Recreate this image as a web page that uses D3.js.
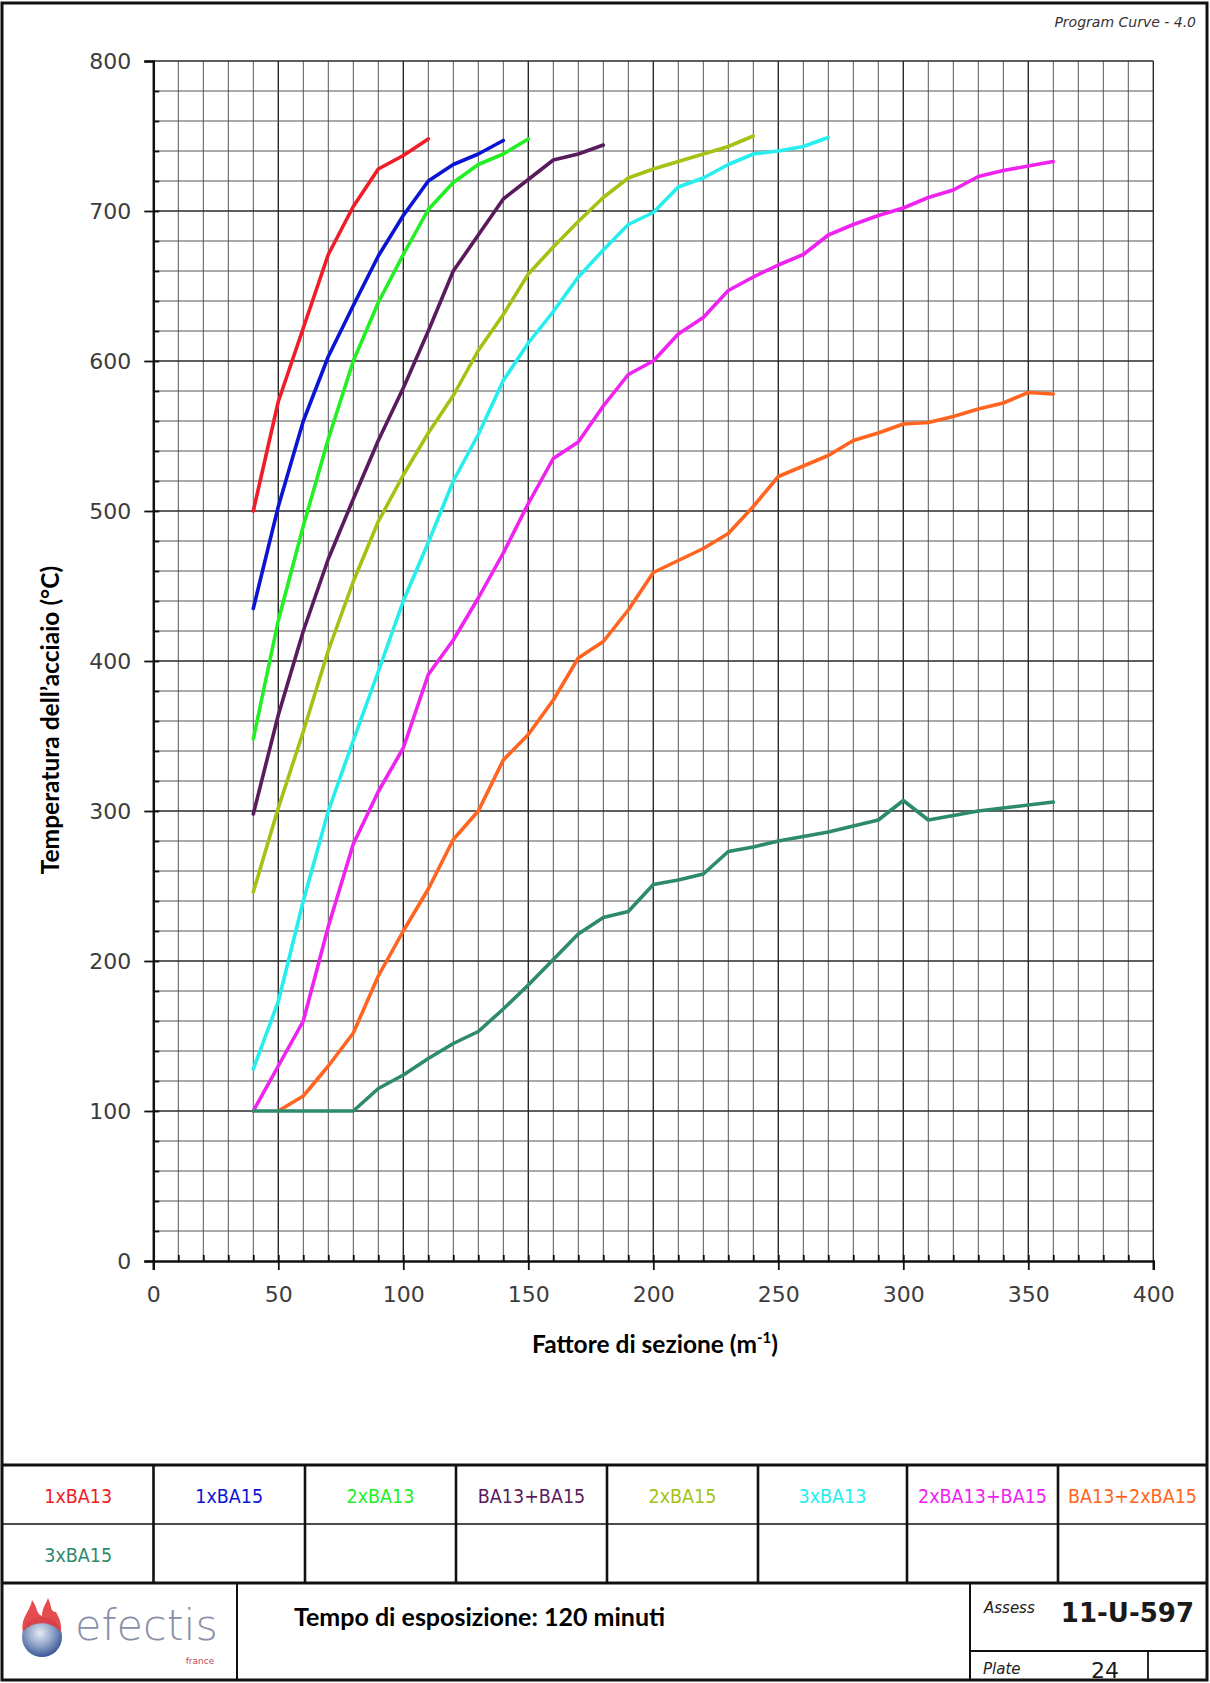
<!DOCTYPE html>
<html>
<head>
<meta charset="utf-8">
<script src="https://cdn.jsdelivr.net/npm/d3@7"></script>
<style>
  body { margin: 0; background: #fff; }
  svg text { font-family: "DejaVu Sans", sans-serif; }
</style>
</head>
<body>
<svg id="chart" width="1210" height="1683"></svg>
<script>
// section factor (m-1) at which temperatures were read
const fattore = [40,50,60,70,80,90,100,110,120,130,140,150,160,170,180,190,200,210,220,230,240,250,260,270,280,290,300,310,320,330,340,350,360];

// steel temperature (°C) per protection, starting at 40 m-1
const temp1xBA13 = [500,573,622,671,703,728,737,748];
const temp1xBA15 = [435,503,560,603,637,670,697,720,731,738,747];
const temp2xBA13 = [348,427,490,548,600,639,671,701,719,731,738,748];
const tempBA13BA15 = [298,364,420,468,508,547,582,620,660,684,708,721,734,738,744];
const temp2xBA15 = [246,302,353,407,453,493,524,552,577,607,631,658,676,693,709,722,728,733,738,743,750];
const temp3xBA13 = [128,173,240,300,347,393,440,479,520,551,587,612,633,656,674,691,699,716,722,731,738,740,743,749];
const temp2xBA13BA15 = [100,130,160,223,278,313,342,391,414,442,472,505,535,546,570,591,600,618,629,647,656,664,671,684,691,697,702,709,714,723,727,730,733];
const tempBA132xBA15 = [null,100,110,130,152,190,220,248,281,300,334,351,374,402,413,434,459,467,475,485,503,523,530,537,547,552,558,559,563,568,572,579,578];
const temp3xBA15 = [100,100,100,100,100,115,124,135,145,153,168,184,201,218,229,233,251,254,258,273,276,280,283,286,290,294,307,294,297,300,302,304,306];

const legendLabels = ["1xBA13","1xBA15","2xBA13","BA13+BA15","2xBA15","3xBA13","2xBA13+BA15","BA13+2xBA15","3xBA15"];
const lineColors = ["#f01c28","#0c14d4","#22f022","#5a1a5e","#a4c214","#26eeee","#f022f0","#ff6420","#2e8a6c"];
const xTicks = [0,50,100,150,200,250,300,350,400];
const yTicks = [0,100,200,300,400,500,600,700,800];

const allSeries = [temp1xBA13,temp1xBA15,temp2xBA13,tempBA13BA15,temp2xBA15,temp3xBA13,temp2xBA13BA15,tempBA132xBA15,temp3xBA15];

const svg = d3.select("#chart");

var x = d3.scaleLinear().domain([0,400]).range([153.3,1153.3]);
var y = d3.scaleLinear().domain([0,800]).range([1261,61]);

// grid
var grid = svg.append("g");
grid.selectAll("line.v")
    .data(d3.range(10,401,10))
    .enter().append("line")
    .attr("x1", d => x(d)).attr("x2", d => x(d))
    .attr("y1", y(0)).attr("y2", y(800))
    .attr("stroke", d => d % 50 == 0 ? "#2a2a2a" : "#555")
    .attr("stroke-width", d => d % 50 == 0 ? 1.4 : 1);
grid.selectAll("line.h")
    .data(d3.range(20,801,20))
    .enter().append("line")
    .attr("y1", d => y(d)).attr("y2", d => y(d))
    .attr("x1", x(0)).attr("x2", x(400))
    .attr("stroke", d => d % 100 == 0 ? "#2a2a2a" : "#555")
    .attr("stroke-width", d => d % 100 == 0 ? 1.4 : 1);

// axes
var yAxis = svg.append("g")
    .attr("transform", "translate(" + x(0) + ",0)")
    .call(d3.axisLeft(y).tickValues(yTicks).tickSize(9).tickPadding(13));
svg.append("g")
    .attr("transform", "translate(" + x(0) + ",0)")
    .call(d3.axisLeft(y).tickValues(d3.range(20,800,20)).tickSize(-6).tickFormat(""))
    .select(".domain").remove();
var xAxis = svg.append("g")
    .attr("transform", "translate(0," + y(0) + ")")
    .call(d3.axisBottom(x).tickValues(xTicks).tickSize(9).tickPadding(16));
svg.append("g")
    .attr("transform", "translate(0," + y(0) + ")")
    .call(d3.axisBottom(x).tickValues(d3.range(10,400,10)).tickSize(-6).tickFormat(""))
    .select(".domain").remove();

svg.selectAll(".domain").attr("stroke", "#111").attr("stroke-width", 2.5);
svg.selectAll(".tick line").attr("stroke", "#111").attr("stroke-width", 1.8);
[xAxis, yAxis].forEach(function(a) {
    a.selectAll("text")
        .style("font-family", "'DejaVu Sans', sans-serif")
        .style("font-size", "22px")
        .attr("fill", "#3c3c3c");
});

// curves
var line = d3.line()
    .defined(d => d.t != null)
    .x(d => x(d.f))
    .y(d => y(d.t));

allSeries.forEach(function(vals, i) {
    var pts = vals.map((t, k) => ({f: fattore[k], t: t}));
    svg.append("path")
        .datum(pts)
        .attr("d", line)
        .attr("fill", "none")
        .attr("stroke", lineColors[i])
        .attr("stroke-width", 3.6)
        .attr("stroke-linejoin", "round")
        .attr("stroke-linecap", "round");
});

// axis titles
svg.append("text")
    .attr("transform", "translate(50,720) rotate(-90)")
    .attr("dy", "0.35em")
    .attr("text-anchor", "middle")
    .style("font-family", "Lato, sans-serif")
    .style("font-weight", "bold")
    .style("font-size", "24.5px")
    .text("Temperatura dell\u2019acciaio (°C)");

var xt = svg.append("text")
    .attr("x", 655).attr("y", 1353)
    .attr("text-anchor", "middle")
    .style("font-family", "Lato, sans-serif")
    .style("font-weight", "bold")
    .style("font-size", "24.5px");
xt.append("tspan").text("Fattore di sezione (m");
xt.append("tspan").attr("dy", -10).style("font-size", "15px").text("-1");
xt.append("tspan").attr("dy", 10).text(")");

svg.append("text")
    .attr("x", 1196).attr("y", 27)
    .attr("text-anchor", "end")
    .style("font-style", "italic")
    .style("font-size", "14px")
    .attr("fill", "#333")
    .text("Program Curve  - 4.0");

// legend table
var colEdges = [3,153.5,305,456,607,758,907,1058,1207];
var table = svg.append("g").attr("stroke", "#111").attr("fill", "none");
table.append("line").attr("x1",3).attr("x2",1207).attr("y1",1465).attr("y2",1465).attr("stroke-width",3);
table.append("line").attr("x1",3).attr("x2",1207).attr("y1",1524).attr("y2",1524).attr("stroke-width",1.6);
table.append("line").attr("x1",3).attr("x2",1207).attr("y1",1583).attr("y2",1583).attr("stroke-width",3);
colEdges.slice(1,-1).forEach(function(cx) {
    table.append("line").attr("x1",cx).attr("x2",cx).attr("y1",1465).attr("y2",1583).attr("stroke-width",2.6);
});
table.append("line").attr("x1",237).attr("x2",237).attr("y1",1583).attr("y2",1680).attr("stroke-width",2);
table.append("line").attr("x1",970).attr("x2",970).attr("y1",1583).attr("y2",1680).attr("stroke-width",2);
table.append("line").attr("x1",970).attr("x2",1207).attr("y1",1651).attr("y2",1651).attr("stroke-width",1.8);
table.append("line").attr("x1",1148).attr("x2",1148).attr("y1",1651).attr("y2",1680).attr("stroke-width",1.8);

svg.selectAll("text.leg")
    .data(legendLabels)
    .enter().append("text")
    .attr("class", "leg")
    .attr("x", (d, i) => (colEdges[i % 8] + colEdges[i % 8 + 1]) / 2)
    .attr("y", (d, i) => i < 8 ? 1503 : 1562)
    .attr("text-anchor", "middle")
    .style("font-family", "'DejaVu Sans Condensed', 'DejaVu Sans', sans-serif")
    .style("font-stretch", "condensed")
    .style("font-size", "19.5px")
    .attr("fill", (d, i) => lineColors[i])
    .text(d => d);

// page frame
svg.append("rect")
    .attr("x", 2).attr("y", 3).attr("width", 1205).attr("height", 1677)
    .attr("fill", "none").attr("stroke", "#111").attr("stroke-width", 3);

// title block
svg.append("text")
    .attr("x", 294).attr("y", 1626)
    .style("font-family", "Lato, sans-serif")
    .style("font-weight", "bold")
    .style("font-size", "25px")
    .text("Tempo di esposizione: 120 minuti");

svg.append("text").attr("x", 984).attr("y", 1613)
    .style("font-style", "italic").style("font-size", "15px").attr("fill", "#222")
    .text("Assess");
svg.append("text").attr("x", 1194).attr("y", 1622).attr("text-anchor", "end")
    .style("font-weight", "bold").style("font-size", "26px").attr("fill", "#1a1a1a")
    .text("11-U-597");
svg.append("text").attr("x", 983).attr("y", 1674)
    .style("font-style", "italic").style("font-size", "15px").attr("fill", "#222")
    .text("Plate");
svg.append("text").attr("x", 1105).attr("y", 1678).attr("text-anchor", "middle")
    .style("font-size", "22px").attr("fill", "#1a1a1a")
    .text("24");

// logo
var defs = svg.append("defs");
var rg = defs.append("radialGradient").attr("id", "globe").attr("cx", "45%").attr("cy", "40%").attr("r", "60%");
rg.append("stop").attr("offset", "0%").attr("stop-color", "#e6ebf4");
rg.append("stop").attr("offset", "55%").attr("stop-color", "#8ea2c8");
rg.append("stop").attr("offset", "100%").attr("stop-color", "#3c5a98");
svg.append("circle").attr("cx", 42).attr("cy", 1637).attr("r", 20).attr("fill", "url(#globe)");
svg.append("path")
    .attr("d", "M23,1632 C20,1618 30,1612 32,1600 C38,1608 36,1614 42,1616 C42,1608 46,1604 48,1598 C52,1606 50,1612 56,1612 C58,1616 62,1622 61,1632 C54,1624 44,1622 36,1624 C30,1625 26,1628 23,1632 Z")
    .attr("fill", "#e2383c").attr("opacity", 0.9);
svg.append("text").attr("x", 75).attr("y", 1640)
    .style("font-size", "43px").style("font-weight", "200").attr("fill", "#8a8fa8")
    .text("efectis");
svg.append("text").attr("x", 200).attr("y", 1664).attr("text-anchor", "middle")
    .style("font-size", "9px").attr("fill", "#c84a5a")
    .text("france");
</script>
</body>
</html>
